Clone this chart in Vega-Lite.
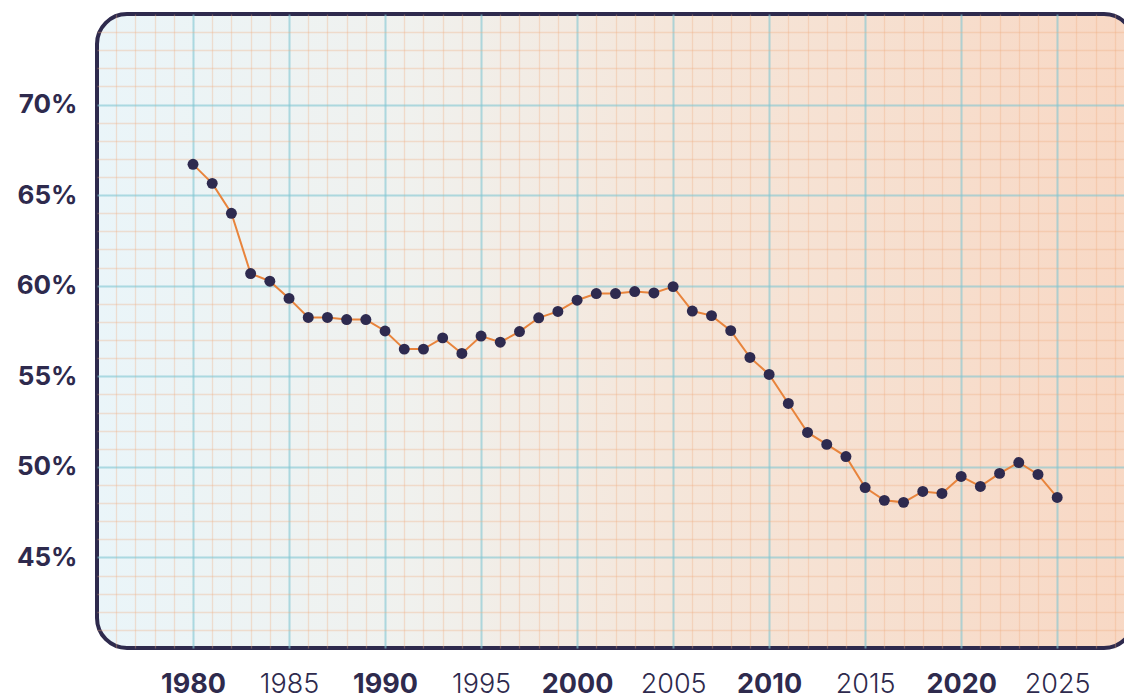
{
  "$schema": "https://vega.github.io/schema/vega-lite/v6.json",
  "autosize": "none",
  "width": 1037,
  "height": 634,
  "padding": {"left": 97, "top": 14, "right": 0, "bottom": 50},
  "background": "#ffffff",
  "data": {
    "values": [
      {"year": 1980, "share": 66.7},
      {"year": 1981, "share": 65.65},
      {"year": 1982, "share": 64.0},
      {"year": 1983, "share": 60.67},
      {"year": 1984, "share": 60.25},
      {"year": 1985, "share": 59.3},
      {"year": 1986, "share": 58.25},
      {"year": 1987, "share": 58.25},
      {"year": 1988, "share": 58.13},
      {"year": 1989, "share": 58.13},
      {"year": 1990, "share": 57.5},
      {"year": 1991, "share": 56.5},
      {"year": 1992, "share": 56.5},
      {"year": 1993, "share": 57.12},
      {"year": 1994, "share": 56.26},
      {"year": 1995, "share": 57.22},
      {"year": 1996, "share": 56.88},
      {"year": 1997, "share": 57.47},
      {"year": 1998, "share": 58.23},
      {"year": 1999, "share": 58.58},
      {"year": 2000, "share": 59.2},
      {"year": 2001, "share": 59.57},
      {"year": 2002, "share": 59.57},
      {"year": 2003, "share": 59.68},
      {"year": 2004, "share": 59.6},
      {"year": 2005, "share": 59.95},
      {"year": 2006, "share": 58.6},
      {"year": 2007, "share": 58.35},
      {"year": 2008, "share": 57.52},
      {"year": 2009, "share": 56.04},
      {"year": 2010, "share": 55.1},
      {"year": 2011, "share": 53.5},
      {"year": 2012, "share": 51.9},
      {"year": 2013, "share": 51.24},
      {"year": 2014, "share": 50.57},
      {"year": 2015, "share": 48.86},
      {"year": 2016, "share": 48.15},
      {"year": 2017, "share": 48.04},
      {"year": 2018, "share": 48.64},
      {"year": 2019, "share": 48.53},
      {"year": 2020, "share": 49.47},
      {"year": 2021, "share": 48.92},
      {"year": 2022, "share": 49.64},
      {"year": 2023, "share": 50.24},
      {"year": 2024, "share": 49.58},
      {"year": 2025, "share": 48.31}
    ]
  },
  "layer": [
    {
      "mark": {"type": "line", "color": "#e8843c", "strokeWidth": 2},
      "encoding": {
        "x": {
          "field": "year", "type": "quantitative",
          "scale": {"domain": [1975, 2029], "nice": false, "zero": false},
          "axis": {
            "orient": "top", "labels": false, "grid": true,
            "values": [1976,1977,1978,1979,1981,1982,1983,1984,1986,1987,1988,1989,1991,1992,1993,1994,1996,1997,1998,1999,2001,2002,2003,2004,2006,2007,2008,2009,2011,2012,2013,2014,2016,2017,2018,2019,2021,2022,2023,2024,2026,2027,2028],
            "gridColor": "#f0aa7c", "gridOpacity": 0.32, "gridWidth": 1.3
          }
        },
        "y": {
          "field": "share", "type": "quantitative",
          "scale": {"domain": [40, 75], "nice": false, "zero": false},
          "axis": {
            "orient": "right", "labels": false, "grid": true,
            "values": [41,42,43,44,46,47,48,49,51,52,53,54,56,57,58,59,61,62,63,64,66,67,68,69,71,72,73,74],
            "gridColor": "#f0aa7c", "gridOpacity": 0.32, "gridWidth": 1.3
          }
        }
      }
    },
    {
      "mark": {"type": "point", "filled": true, "color": "#2e2a4f", "size": 120, "opacity": 1},
      "encoding": {
        "x": {
          "field": "year", "type": "quantitative",
          "axis": {
            "orient": "bottom", "grid": true,
            "values": [1980,1985,1990,1995,2000,2005,2010,2015,2020,2025],
            "format": "d",
            "labelFontSize": 27,
            "labelFontWeight": {"condition": {"test": "datum.value % 10 === 0", "value": 700}, "value": 300},
            "labelPadding": 23,
            "gridColor": "#7fc6d2", "gridOpacity": 0.6, "gridWidth": 2
          }
        },
        "y": {
          "field": "share", "type": "quantitative",
          "axis": {
            "orient": "left", "grid": true,
            "values": [45,50,55,60,65,70],
            "labelExpr": "datum.value + '%'",
            "labelFontWeight": 700,
            "labelPadding": 20,
            "gridColor": "#7fc6d2", "gridOpacity": 0.6, "gridWidth": 2
          }
        }
      }
    }
  ],
  "resolve": {"axis": {"x": "independent", "y": "independent"}},
  "config": {
    "view": {
      "stroke": "#2e2a4d",
      "strokeWidth": 4,
      "cornerRadius": 30,
      "fill": {
        "gradient": "linear",
        "x1": 0, "y1": 0, "x2": 1, "y2": 0,
        "stops": [
          {"offset": 0, "color": "#eaf5f9"},
          {"offset": 0.3, "color": "#f0f1ee"},
          {"offset": 0.55, "color": "#f5e6da"},
          {"offset": 1, "color": "#f8d8c4"}
        ]
      }
    },
    "axis": {
      "domain": false,
      "ticks": false,
      "title": null,
      "labelColor": "#2e2a4d",
      "labelFont": "Inter",
      "labelFontSize": 26
    }
  }
}
